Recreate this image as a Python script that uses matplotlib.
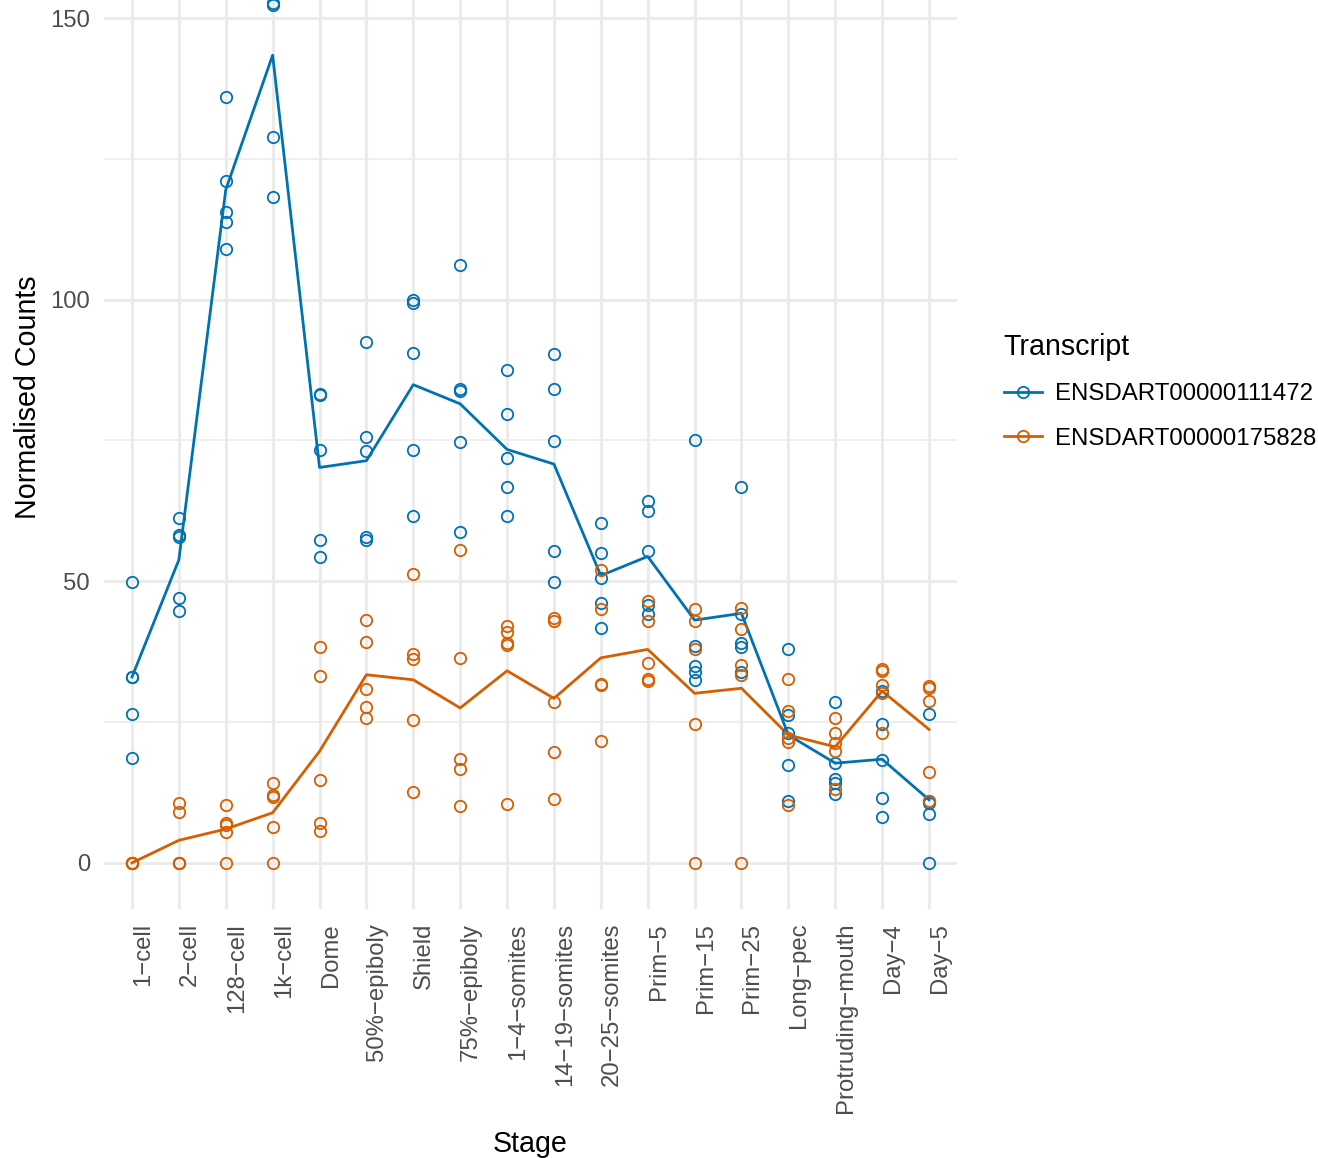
import matplotlib.pyplot as plt
from matplotlib.lines import Line2D
import numpy as np

plt.rcParams['font.family'] = ['Liberation Sans', 'DejaVu Sans']

# Data
stages = ['1\u2212cell', '2\u2212cell', '128\u2212cell', '1k\u2212cell', 'Dome',
          '50%\u2212epiboly', 'Shield', '75%\u2212epiboly', '1\u22124\u2212somites',
          '14\u221219\u2212somites', '20\u221225\u2212somites', 'Prim\u22125',
          'Prim\u221215', 'Prim\u221225', 'Long\u2212pec', 'Protruding\u2212mouth',
          'Day\u22124', 'Day\u22125']

blue_points = [
    [49.9, 33.0, 33.0, 26.5, 18.6],
    [61.3, 58.2, 57.9, 47.0, 44.7],
    [135.9, 121.1, 115.5, 113.7, 109.0],
    [165.0, 152.6, 152.4, 128.8, 118.3],
    [83.3, 83.1, 73.3, 57.3, 54.3],
    [92.5, 75.6, 73.1, 57.9, 57.4],
    [100.0, 99.4, 90.5, 73.3, 61.5],
    [106.1, 84.1, 83.7, 74.8, 58.8],
    [87.5, 79.7, 71.8, 66.7, 61.5],
    [90.3, 84.1, 74.9, 55.3, 49.8],
    [60.3, 55.1, 50.5, 46.1, 41.7],
    [64.2, 62.4, 55.4, 45.8, 44.2],
    [75.1, 38.5, 35.0, 33.8, 32.5],
    [66.7, 44.2, 39.1, 38.4, 33.9],
    [38.0, 26.2, 23.0, 17.4, 11.0],
    [28.5, 17.8, 14.8, 14.1, 12.2],
    [30.5, 24.7, 18.3, 11.5, 8.1],
    [26.4, 11.0, 10.7, 8.7, 0.0],
]
blue_line = [33.0, 53.8, 119.5, 143.4, 70.2, 71.4, 84.9, 81.5, 73.4,
             70.8, 51.0, 54.4, 43.1, 44.3, 22.7, 17.7, 18.4, 11.2]

orange_points = [
    [0.0, 0.0, 0.0, 0.0, 0.0],
    [10.7, 9.1, 0.0, 0.0, 0.0],
    [10.3, 7.0, 6.7, 5.4, 0.0],
    [14.1, 12.1, 11.7, 6.3, 0.0],
    [38.3, 33.1, 14.7, 7.0, 5.7],
    [43.2, 39.2, 30.8, 27.6, 25.8],
    [51.3, 37.0, 36.2, 25.4, 12.5],
    [55.6, 36.4, 18.5, 16.6, 10.1],
    [42.1, 40.9, 39.0, 38.6, 10.5],
    [43.4, 43.0, 28.5, 19.7, 11.4],
    [52.0, 45.0, 31.8, 31.6, 21.7],
    [46.5, 43.0, 35.4, 32.6, 32.3],
    [45.0, 43.0, 38.0, 24.7, 0.0],
    [45.2, 41.5, 35.2, 33.4, 0.0],
    [32.7, 26.9, 22.1, 21.5, 10.2],
    [25.7, 23.1, 21.2, 19.8, 13.1],
    [34.4, 34.1, 31.5, 30.2, 23.1],
    [31.4, 31.0, 28.8, 16.2, 10.9],
]
orange_line = [0.0, 4.0, 6.0, 8.9, 19.8, 33.4, 32.5, 27.5, 34.1,
               29.2, 36.4, 37.9, 30.1, 31.0, 22.7, 20.6, 30.5, 23.7]

transcripts = ['ENSDART00000111472', 'ENSDART00000175828']
colors = ['#0072B2', '#D55E00']

fig = plt.figure(figsize=(13.18, 11.58), dpi=100)
ax = fig.add_axes([0.0788, 0.215, 0.6474, 0.785])

x = np.arange(len(stages))
series = [(blue_points, blue_line), (orange_points, orange_line)]
for (pts, line), col in zip(series, colors):
    xs = np.repeat(x, [len(p) for p in pts])
    ys = np.concatenate(pts)
    ax.plot(xs, ys, 'o', mfc='none', mec=col, mew=1.3, ms=8.2, zorder=3)
    ax.plot(x, line, '-', color=col, lw=2.0, zorder=2)

ax.set_xlim(-0.6, len(stages) - 0.4)
ax.set_ylim(-8.2, 153.2)
ax.set_xticks(x)
# ggplot puts the rotated labels just right of each tick
ax.set_xticklabels(stages, rotation=90, ha='right', va='top', rotation_mode='anchor')
ax.set_yticks([0, 50, 100, 150])
ax.set_yticks([25, 75, 125], minor=True)

ax.grid(True, which='major', color='#EBEBEB', lw=2.2)
ax.grid(True, which='minor', axis='y', color='#EBEBEB', lw=1.1)
ax.set_axisbelow(True)
for s in ax.spines.values():
    s.set_visible(False)
ax.tick_params(axis='both', which='both', length=0, labelsize=17.2, labelcolor='#4D4D4D')
ax.tick_params(axis='x', pad=10)
ax.tick_params(axis='y', pad=10)

ax.set_xlabel('Stage', fontsize=20.6, labelpad=12)
ax.set_ylabel('Normalised Counts', fontsize=20.6)
ax.yaxis.set_label_coords(-0.072, 0.563)

handles = [Line2D([], [], color=c, lw=2.0, marker='o', mfc='none', mec=c, mew=1.3, ms=8.2)
           for c in colors]
leg = fig.legend(handles, transcripts, loc='center left', bbox_to_anchor=(0.7615, 0.662),
                 frameon=False, fontsize=17.3, title='Transcript', title_fontsize=20.6,
                 handlelength=1.6, handletextpad=0.55, labelspacing=0.93, borderpad=0,
                 borderaxespad=0, alignment='left')

fig.savefig('out.png', dpi=100)
